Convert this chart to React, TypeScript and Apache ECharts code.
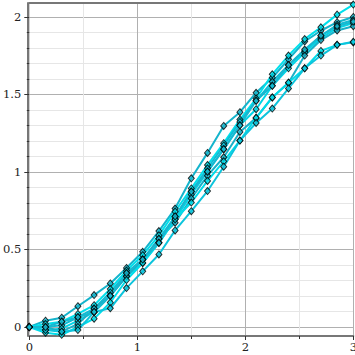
import React, { useEffect, useRef } from "react";
import * as echarts from "echarts";

// ---- data ----
const xValues = [0, 0.15, 0.3, 0.45, 0.6, 0.75, 0.9, 1.05, 1.2, 1.35, 1.5, 1.65, 1.8, 1.95, 2.1, 2.25, 2.4, 2.55, 2.7, 2.85, 3.0];

const seriesA = [0, 0.041, 0.06, 0.134, 0.206, 0.281, 0.381, 0.485, 0.619, 0.764, 0.959, 1.123, 1.297, 1.386, 1.511, 1.608, 1.727, 1.842, 1.911, 1.966, 2.0];
const seriesB = [0, 0.019, 0.034, 0.084, 0.141, 0.245, 0.364, 0.463, 0.591, 0.745, 0.894, 1.045, 1.186, 1.338, 1.474, 1.63, 1.751, 1.857, 1.933, 2.015, 2.08];
const seriesC = [0, 0, 0.011, 0.063, 0.119, 0.223, 0.348, 0.435, 0.569, 0.713, 0.874, 1.024, 1.171, 1.323, 1.459, 1.582, 1.69, 1.781, 1.879, 1.95, 1.98];
const seriesD = [0, -0.02, -0.011, 0.041, 0.097, 0.201, 0.327, 0.413, 0.543, 0.695, 0.855, 1.002, 1.147, 1.301, 1.405, 1.556, 1.669, 1.771, 1.864, 1.929, 1.96];
const seriesE = [0, 0, -0.03, 0.02, 0.119, 0.201, 0.327, 0.435, 0.569, 0.673, 0.829, 0.976, 1.095, 1.258, 1.349, 1.481, 1.576, 1.751, 1.851, 1.913, 1.94];
const seriesF = [0, -0.037, -0.05, 0, 0.054, 0.158, 0.303, 0.413, 0.543, 0.695, 0.803, 0.942, 1.069, 1.203, 1.349, 1.481, 1.576, 1.669, 1.781, 1.82, 1.836];
const seriesG = [0, -0.02, -0.03, -0.02, 0.097, 0.121, 0.251, 0.359, 0.468, 0.623, 0.747, 0.877, 1.034, 1.203, 1.316, 1.409, 1.539, 1.669, 1.751, 1.82, 1.84];
const seriesH = [0, 0, 0.034, 0.063, 0.097, 0.201, 0.348, 0.435, 0.543, 0.713, 0.874, 1.002, 1.147, 1.301, 1.459, 1.556, 1.69, 1.79, 1.879, 1.94, 1.97];

const allSeries = [seriesA, seriesB, seriesC, seriesD, seriesE, seriesF, seriesG, seriesH];
const lineColors = ["#14b4cc", "#00e0ec", "#10bcd4", "#00d4e6", "#1ab0c8", "#00dcea", "#0cc4dc", "#18b8d0"];

const xTickLabels = ["0", "1", "2", "3"];
const yTickLabels = ["0", "0.5", "1", "1.5", "2"];

// ---- axis ranges / layout ----
const X_MIN = 0;
const X_MAX = 3;
const Y_MIN = -0.058;
const Y_MAX = 2.09;
const Y_GRID_MIN = 0;
const Y_GRID_MAX = 2;
const PLOT = { left: 29.3, right: 1.7, top: 3, bottom: 19 };
const SIZE = 355;

const FONT = "DejaVu Serif";

export default function App() {
  const ref = useRef<HTMLDivElement>(null);

  useEffect(() => {
    if (!ref.current) return;
    const chart = echarts.init(ref.current, undefined, { renderer: "svg" });

    const plotH = SIZE - PLOT.top - PLOT.bottom;
    const unit = plotH / (Y_MAX - Y_MIN);
    const grid2Top = PLOT.top + (Y_MAX - Y_GRID_MAX) * unit;
    const grid2Bottom = PLOT.bottom + (Y_GRID_MIN - Y_MIN) * unit;

    const lineSeries = allSeries.map((vals, i) => ({
      type: "line",
      xAxisIndex: 0,
      yAxisIndex: 0,
      data: xValues.map((x, j) => [x, vals[j]]),
      showSymbol: false,
      symbol: "none",
      lineStyle: { width: 2, color: lineColors[i] },
      z: 3,
      silent: true,
    }));
    const markerSeries = allSeries.map((vals, i) => ({
      type: "scatter",
      xAxisIndex: 0,
      yAxisIndex: 0,
      data: xValues.map((x, j) => [x, vals[j]]),
      symbol: "diamond",
      symbolSize: [6, 7],
      itemStyle: { color: lineColors[i], borderColor: "#000", borderWidth: 1 },
      z: 4,
      silent: true,
    }));

    chart.setOption({
      animation: false,
      backgroundColor: "#fff",
      grid: [
        { left: PLOT.left, right: PLOT.right, top: PLOT.top, bottom: PLOT.bottom, containLabel: false, outerBoundsMode: "none" },
        { left: PLOT.left, right: PLOT.right, top: grid2Top, bottom: grid2Bottom, containLabel: false, outerBoundsMode: "none" },
      ],
      xAxis: [
        {
          type: "value",
          gridIndex: 0,
          min: X_MIN,
          max: X_MAX,
          interval: 1,
          position: "bottom",
          axisLine: { show: true, onZero: false, lineStyle: { color: "#777", width: 2 } },
          axisTick: { show: true, length: 4, lineStyle: { color: "#333" } },
          minorTick: { show: true, splitNumber: 2, length: 3, lineStyle: { color: "#333" } },
          axisLabel: {
            margin: 5,
            fontFamily: FONT,
            fontSize: 11.5,
            color: "#222",
            hideOverlap: false,
            formatter: (v: number) => xTickLabels[Math.round(v)] ?? "",
          },
          splitLine: { show: true, lineStyle: { color: ["#d2d2d2", "#b0b0b0", "#b0b0b0", "#b0b0b0"], width: 1 } },
          minorSplitLine: { show: true, lineStyle: { color: "#e6e6e6", width: 1 } },
        },
        {
          type: "value",
          gridIndex: 0,
          min: X_MIN,
          max: X_MAX,
          position: "top",
          axisLine: { show: true, onZero: false, lineStyle: { color: "#777", width: 2 } },
          axisTick: { show: false },
          axisLabel: { show: false },
          splitLine: { show: false },
        },
        {
          type: "value",
          gridIndex: 1,
          min: X_MIN,
          max: X_MAX,
          show: false,
        },
      ],
      yAxis: [
        {
          type: "value",
          gridIndex: 0,
          min: Y_MIN,
          max: Y_MAX,
          offset: 2,
          axisLine: { show: true, onZero: false, lineStyle: { color: "#777", width: 2 } },
          axisTick: { show: false },
          axisLabel: { show: false },
          splitLine: { show: false },
        },
        {
          type: "value",
          gridIndex: 1,
          min: Y_GRID_MIN,
          max: Y_GRID_MAX,
          interval: 0.5,
          offset: 2,
          axisLine: { show: false },
          axisTick: { show: true, length: 5, lineStyle: { color: "#333" } },
          minorTick: { show: true, splitNumber: 5, length: 2.5, lineStyle: { color: "#333" } },
          axisLabel: {
            margin: 6,
            fontFamily: FONT,
            fontSize: 11.5,
            color: "#222",
            formatter: (v: number) => yTickLabels[Math.round(v / 0.5)] ?? "",
          },
          splitLine: { show: true, lineStyle: { color: "#b0b0b0", width: 1 } },
          minorSplitLine: { show: true, lineStyle: { color: "#e6e6e6", width: 1 } },
        },
      ],
      series: [...lineSeries, ...markerSeries],
    });

    return () => chart.dispose();
  }, []);

  return (
    <div
      ref={ref}
      style={{ position: "fixed", left: 0, top: 0, width: SIZE, height: SIZE, background: "#fff" }}
    />
  );
}
